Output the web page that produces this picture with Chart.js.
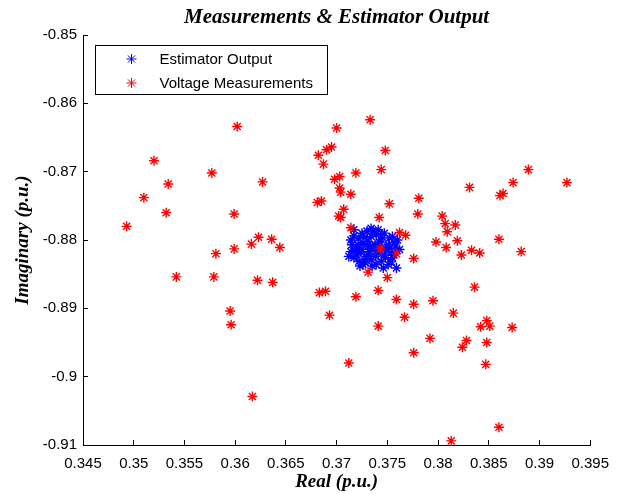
<!DOCTYPE html>
<html>
<head>
<meta charset="utf-8">
<script src="https://cdn.jsdelivr.net/npm/chart.js@4"></script>
<style>
  body { margin: 0; background: #fff; }
  #chartDiv { width: 624px; height: 494px; }
</style>
</head>
<body>
<div id="chartDiv"><canvas id="my-chart" width="624" height="494"></canvas></div>
<script>
const chartTitle = 'Measurements & Estimator Output';
const xTitle = 'Real (p.u.)';
const yTitle = 'Imaginary (p.u.)';
const seriesNames = ['Estimator Output', 'Voltage Measurements'];

const xTicks = [0.345, 0.35, 0.355, 0.36, 0.365, 0.37, 0.375, 0.38, 0.385, 0.39, 0.395];
const xTickLabels = ['0.345', '0.35', '0.355', '0.36', '0.365', '0.37', '0.375', '0.38', '0.385', '0.39', '0.395'];
const yTicks = [-0.91, -0.9, -0.89, -0.88, -0.87, -0.86, -0.85];
const yTickLabels = ['-0.91', '-0.9', '-0.89', '-0.88', '-0.87', '-0.86', '-0.85'];

// estimator output (blue cluster)
const estimatorReal = [
  0.3717, 0.3725, 0.3734, 0.3741, 0.3747, 0.3755, 0.3760, 0.3715, 0.3714, 0.3717,
  0.3726, 0.3734, 0.3744, 0.3751, 0.3759, 0.3754, 0.3762, 0.3722, 0.3731, 0.3738,
  0.3744, 0.3751, 0.3725, 0.3733, 0.3741, 0.3747, 0.3720, 0.3730, 0.3738, 0.3728,
  0.3722, 0.3746, 0.3739, 0.3719, 0.3726, 0.3734, 0.3739, 0.3730, 0.3755, 0.3752,
  0.3712, 0.3723, 0.3736, 0.3742, 0.3731, 0.3748, 0.3717, 0.3757, 0.3721, 0.3728,
  0.3736, 0.3744, 0.3752, 0.3758, 0.3724, 0.3733, 0.3740, 0.3748, 0.3754, 0.3728,
  0.3735, 0.3714, 0.3756, 0.3742, 0.3731, 0.3719
];
const estimatorImag = [
  -0.8785, -0.8790, -0.8783, -0.8785, -0.8790, -0.8795, -0.8800, -0.8807, -0.8817, -0.8826,
  -0.8836, -0.8829, -0.8831, -0.8836, -0.8841, -0.8819, -0.8814, -0.8797, -0.8802, -0.8807,
  -0.8800, -0.8807, -0.8814, -0.8817, -0.8819, -0.8822, -0.8822, -0.8824, -0.8824, -0.8829,
  -0.8831, -0.8841, -0.8836, -0.8812, -0.8805, -0.8795, -0.8792, -0.8787, -0.8826, -0.8812,
  -0.8824, -0.8838, -0.8810, -0.8809, -0.8809, -0.8812, -0.8794, -0.8804, -0.8807, -0.8796,
  -0.8788, -0.8794, -0.8797, -0.8810, -0.8818, -0.8810, -0.8815, -0.8826, -0.8832, -0.8832,
  -0.8838, -0.8800, -0.8822, -0.8803, -0.8822, -0.8815
];

// voltage measurements (red)
const measurementReal = [
  0.3602, 0.3520, 0.3577, 0.3534, 0.3510, 0.3532, 0.3599, 0.3493, 0.3616, 0.3623,
  0.3636, 0.3644, 0.3581, 0.3599, 0.3542, 0.3579, 0.3622, 0.3637, 0.3595, 0.3596,
  0.3617, 0.3733, 0.3700, 0.3695, 0.3690, 0.3682, 0.3687, 0.3748, 0.3744, 0.3719,
  0.3698, 0.3703, 0.3627, 0.3703, 0.3704, 0.3714, 0.3681, 0.3685, 0.3707, 0.3752,
  0.3781, 0.3702, 0.3704, 0.3780, 0.3742, 0.3714, 0.3762, 0.3768, 0.3889, 0.3874,
  0.3927, 0.3831, 0.3864, 0.3861, 0.3804, 0.3807, 0.3817, 0.3809, 0.3798, 0.3819,
  0.3860, 0.3808, 0.3823, 0.3833, 0.3841, 0.3882, 0.3776, 0.3836, 0.3776, 0.3795,
  0.3815, 0.3848, 0.3842, 0.3851, 0.3873, 0.3792, 0.3828, 0.3824, 0.3848, 0.3776,
  0.3847, 0.3860, 0.3813, 0.3683, 0.3689, 0.3693, 0.3719, 0.3731, 0.3750, 0.3741,
  0.3759, 0.3767, 0.3741, 0.3712, 0.3759, 0.3743
];
const measurementImag = [
  -0.8634, -0.8684, -0.8702, -0.8718, -0.8738, -0.8760, -0.8762, -0.8780, -0.8806, -0.8796,
  -0.8799, -0.8811, -0.8820, -0.8813, -0.8854, -0.8854, -0.8859, -0.8862, -0.8904, -0.8924,
  -0.9029, -0.8624, -0.8636, -0.8664, -0.8668, -0.8676, -0.8689, -0.8669, -0.8697, -0.8702,
  -0.8711, -0.8707, -0.8715, -0.8724, -0.8730, -0.8733, -0.8745, -0.8743, -0.8755, -0.8747,
  -0.8739, -0.8765, -0.8767, -0.8762, -0.8767, -0.8782, -0.8789, -0.8793, -0.8697, -0.8716,
  -0.8716, -0.8723, -0.8732, -0.8735, -0.8765, -0.8776, -0.8778, -0.8788, -0.8803, -0.8801,
  -0.8799, -0.8811, -0.8822, -0.8815, -0.8819, -0.8817, -0.8827, -0.8869, -0.8894, -0.8889,
  -0.8907, -0.8918, -0.8927, -0.8926, -0.8928, -0.8944, -0.8947, -0.8957, -0.8950, -0.8965,
  -0.8982, -0.9074, -0.9094, -0.8877, -0.8875, -0.8910, -0.8883, -0.8847, -0.8855, -0.8874,
  -0.8887, -0.8913, -0.8926, -0.8980, -0.8820, -0.8813
];

const seriesColors = ['#0000ff', '#ff0000'];
const markerRadius = 5;
const markerWidth = 1.4;

// title + boxed legend, matlab style
const extrasPlugin = {
    id: 'extras',
    afterDraw(chart) {
        const ctx = chart.ctx;
        const area = chart.chartArea;
        ctx.save();
        ctx.fillStyle = '#000';
        ctx.font = 'italic bold 21px "Liberation Serif", "Times New Roman", serif';
        ctx.textAlign = 'center';
        ctx.textBaseline = 'alphabetic';
        ctx.fillText(chartTitle, (area.left + area.right) / 2, 23);

        // legend box
        const bx = area.left + 12.5, by = area.top + 10.5, bw = 232, bh = 49;
        ctx.fillStyle = '#fff';
        ctx.fillRect(bx, by, bw, bh);
        ctx.strokeStyle = '#000';
        ctx.lineWidth = 1;
        ctx.strokeRect(bx, by, bw, bh);
        ctx.font = '15px "Liberation Sans", Arial, sans-serif';
        ctx.textAlign = 'left';
        ctx.textBaseline = 'middle';
        seriesNames.forEach((name, i) => {
            const y = by + 13.5 + i * 24;
            ctx.strokeStyle = seriesColors[i];
            ctx.fillStyle = seriesColors[i];
            Chart.helpers.drawPoint(ctx, { pointStyle: 'star', radius: markerRadius, rotation: 0, borderWidth: markerWidth }, bx + 36, y);
            ctx.fillStyle = '#000';
            ctx.fillText(name, bx + 64, y + 1);
        });
        ctx.restore();
    }
};

window.onload = () => {
    const canvas = document.getElementById('my-chart').getContext('2d');
    const tickFont = { family: '"Liberation Sans", Arial, sans-serif', size: 15 };
    const titleFont = { family: '"Liberation Serif", "Times New Roman", serif', size: 19, style: 'italic', weight: 'bold' };
    new Chart(canvas, {
        type: 'scatter',
        data: {
            datasets: [{
                label: seriesNames[0],
                data: estimatorReal.map((x, i) => ({ x: x, y: estimatorImag[i] })),
                borderColor: seriesColors[0],
                backgroundColor: seriesColors[0],
                pointStyle: 'star',
                pointRadius: markerRadius,
                borderWidth: markerWidth,
                clip: false,
                order: 1
            }, {
                label: seriesNames[1],
                data: measurementReal.map((x, i) => ({ x: x, y: measurementImag[i] })),
                borderColor: seriesColors[1],
                backgroundColor: seriesColors[1],
                pointStyle: 'star',
                pointRadius: markerRadius,
                borderWidth: markerWidth,
                clip: false,
                order: 0
            }]
        },
        options: {
            responsive: false,
            animation: false,
            events: [],
            layout: { padding: { left: 0, right: 22, top: 35, bottom: 0 } },
            plugins: {
                legend: { display: false },
                tooltip: { enabled: false }
            },
            scales: {
                x: {
                    type: 'linear',
                    min: 0.345,
                    max: 0.395,
                    afterBuildTicks: (scale) => { scale.ticks = xTicks.map(v => ({ value: v })); },
                    afterFit: (scale) => { scale.height = 49; },
                    ticks: {
                        callback: (value, index) => xTickLabels[index],
                        color: '#000',
                        font: tickFont,
                        padding: 15,
                        autoSkip: false,
                        maxRotation: 0
                    },
                    grid: { drawOnChartArea: false, drawTicks: true, tickLength: -5, tickColor: '#000' },
                    border: { display: true, color: '#000', width: 1 },
                    title: { display: true, text: xTitle, color: '#000', font: titleFont, padding: { top: 0, bottom: 1 } }
                },
                y: {
                    type: 'linear',
                    min: -0.91,
                    max: -0.85,
                    afterBuildTicks: (scale) => { scale.ticks = yTicks.map(v => ({ value: v })); },
                    afterFit: (scale) => { scale.width = 83; },
                    ticks: {
                        callback: (value, index) => yTickLabels[index],
                        color: '#000',
                        font: tickFont,
                        padding: 11,
                        autoSkip: false
                    },
                    grid: { drawOnChartArea: false, drawTicks: true, tickLength: -5, tickColor: '#000' },
                    border: { display: true, color: '#000', width: 1 },
                    title: { display: true, text: yTitle, color: '#000', font: titleFont, padding: { top: 12, bottom: 0 } }
                }
            }
        },
        plugins: [extrasPlugin]
    });
};
</script>
</body>
</html>
